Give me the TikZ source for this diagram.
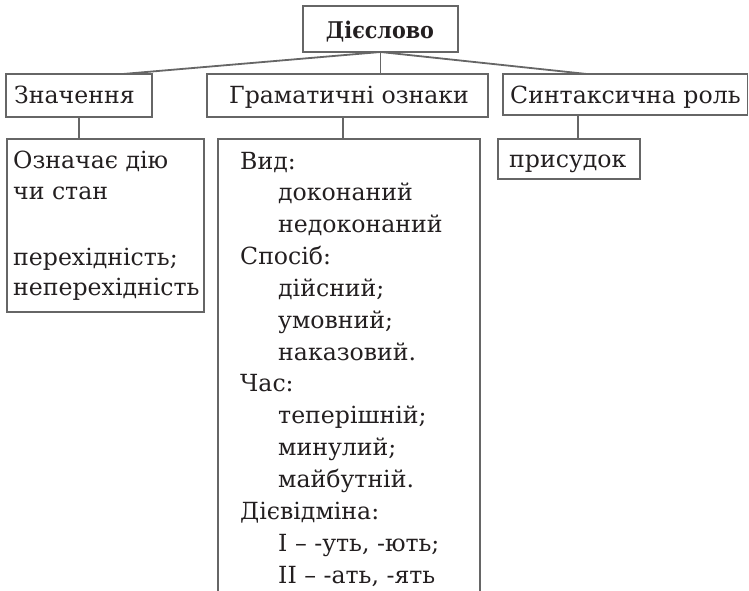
\documentclass[tikz,border=0pt]{standalone}
\usepackage{fontspec}
\setmainfont{DejaVu Serif}
\newfontfamily\titlefont{DejaVu Serif Condensed}
\usetikzlibrary{calc}
\definecolor{linegray}{HTML}{666666}
\definecolor{ink}{HTML}{231F20}
\begin{document}
\begin{tikzpicture}[x=1pt,y=-1pt,
  box/.style={draw=linegray, line width=1.8pt, inner sep=0pt, outer sep=0pt, anchor=north west, rectangle},
  openbox/.style={inner sep=0pt, outer sep=0pt, anchor=north west, rectangle},
  txt/.style={text=ink, inner sep=0pt, anchor=base west, font=\fontsize{23.6}{28}\selectfont},
  ttl/.style={text=ink, inner sep=0pt, anchor=base, font=\titlefont\bfseries\fontsize{23}{26}\selectfont},
  conn/.style={draw=linegray, line width=1.8pt}]
\useasboundingbox (0,0) rectangle (749,591);
% boxes
\node[box, minimum width=155pt, minimum height=46pt] (top) at (303,6) {};
\node[box, minimum width=146pt, minimum height=43pt] (zn) at (6,74) {};
\node[box, minimum width=281pt, minimum height=43pt] (gr) at (207,74) {};
\node[box, minimum width=244.5pt, minimum height=41pt] (syn) at (503,74) {};
\node[box, minimum width=197pt, minimum height=173pt] (zn2) at (7,139) {};
\node[openbox, minimum width=262pt, minimum height=455pt] (gr2) at (218,139) {};
\draw[conn] (gr2.south west) -- (gr2.north west) -- (gr2.north east) -- (gr2.south east);
\node[box, minimum width=142pt, minimum height=40pt] (pr) at (498,139) {};
% titles
\node[ttl] (ttop) at (380,39) {Дієслово};
\node[txt] (tzn) at (14,103) {Значення};
\node[txt] (tgr) at (229,103) {Граматичні ознаки};
\node[txt] (tsyn) at (510,103) {Синтаксична роль};
% connectors
\draw[conn] (top.south) -- ($(zn.north west)!0.8!(zn.north east)$);
\draw[conn] (top.south) -- (top.south |- gr.north);
\draw[conn] (top.south) -- ($(syn.north west)!0.343!(syn.north east)$);
\draw[conn] (zn.south) -- (zn.south |- zn2.north);
\coordinate (gs) at ($(gr.south)+(-4.5,0)$);
\draw[conn] (gs) -- (gs |- gr2.north);
\coordinate (ss) at ($(syn.south west)+(75,0)$);
\draw[conn] (ss) -- (ss |- pr.north);
% Значення content
\node[txt] (z1) at (13,168) {Означає дію};
\node[txt] (z2) at (13,199) {чи стан};
\node[txt] (z3) at (13,265) {перехідність;};
\node[txt] (z4) at (13,295) {неперехідність};
% присудок
\node[txt] (p1) at (509,167) {присудок};
% grammar content
\foreach \xx/\tt [count=\i] in {240/Вид:, 278/доконаний, 278/недоконаний, 240/Спосіб:, 278/дійсний;, 278/умовний;, 278/наказовий., 240/Час:, 278/теперішній;, 278/минулий;, 278/майбутній., 240/Дієвідміна:}
  \node[txt] (g\i) at (\xx,{169+31.85*(\i-1)}) {\tt};
\node[txt] (g13) at (278,{169+31.85*12}) {I – -уть, -ють;};
\node[txt] (g14) at (278,{169+31.85*13}) {II – -ать, -ять};
\end{tikzpicture}
\end{document}
